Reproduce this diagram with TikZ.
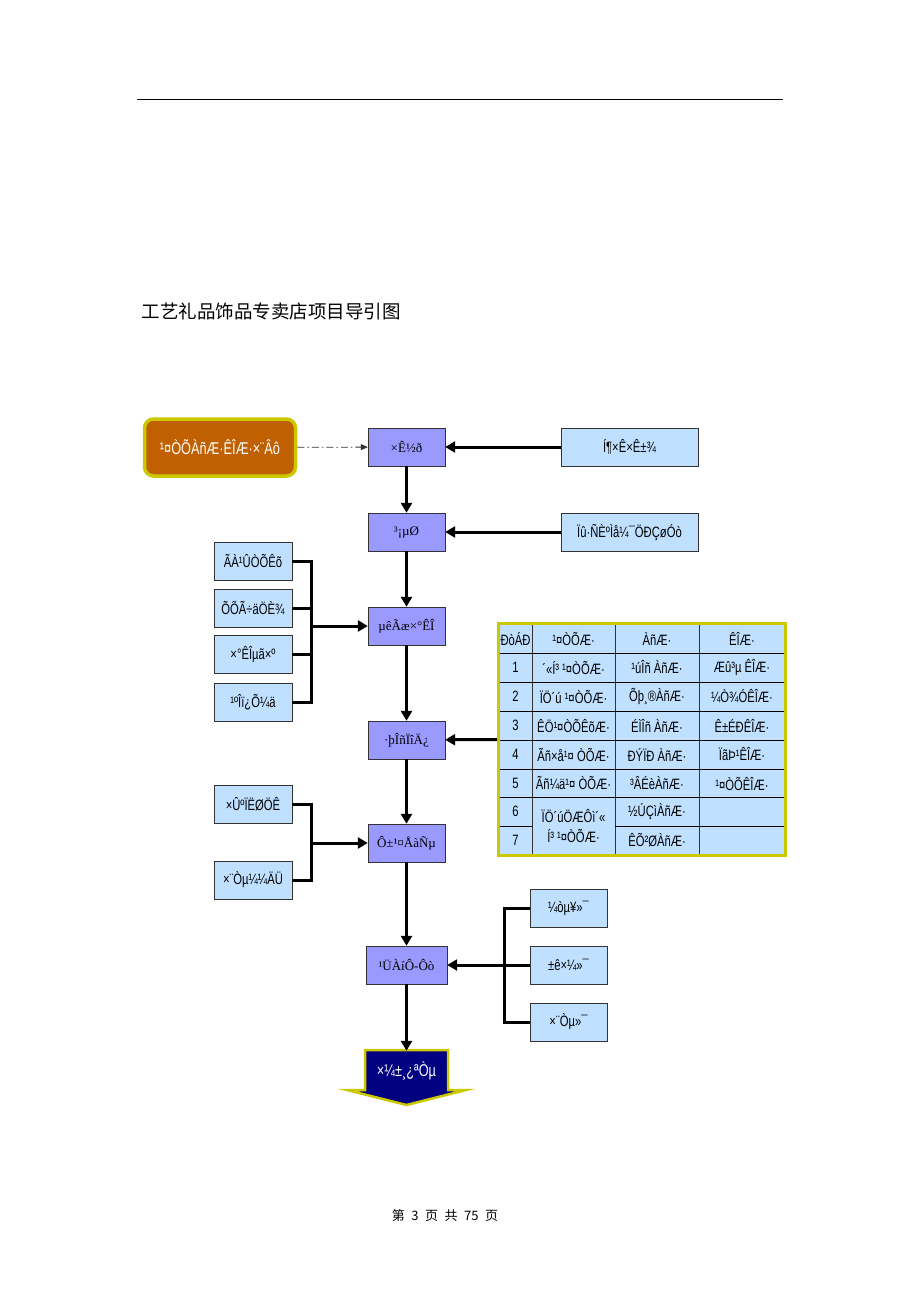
\documentclass[tikz,border=0pt]{standalone}
\usepackage{fontspec}
\setmainfont{Liberation Serif}
\setsansfont{Liberation Sans}[FakeStretch=0.75]
\newfontfamily\cjk{Noto Sans CJK SC}
\usetikzlibrary{arrows.meta}
\definecolor{boxpurple}{RGB}{153,153,255}
\definecolor{boxblue}{RGB}{192,224,255}
\definecolor{rust}{RGB}{192,96,0}
\definecolor{olive}{RGB}{204,200,0}
\definecolor{navy}{RGB}{0,0,128}
\definecolor{edge}{RGB}{51,51,51}

\begin{document}
\begin{tikzpicture}[x=1pt,y=-1pt,
  main/.style={draw=edge,fill=boxpurple,minimum width=77pt,minimum height=38pt,inner sep=0pt,font=\rmfamily\fontsize{13}{15}\selectfont},
  side/.style={draw=edge,fill=boxblue,minimum height=38pt,inner sep=0pt,font=\sffamily\fontsize{15}{17}\selectfont},
  cell/.style={inner sep=0pt,font=\sffamily\fontsize{15}{16}\selectfont},
  arr/.style={line width=3pt,-{Triangle[length=10pt,width=11pt]}},
  bar/.style={line width=3pt},
  rowline/.style={line width=1pt,black},
  colline/.style={line width=0.8pt,edge}]
\useasboundingbox (0,0) rectangle (920,1302);
\draw[line width=1pt] (137,99) -- (783,99);
\node[anchor=west,font=\cjk\fontsize{18.5}{20}\selectfont] (title) at (138,311) {工艺礼品饰品专卖店项目导引图};

% main column
\node[draw=olive,fill=rust,line width=3.5pt,rounded corners=9pt,minimum width=151pt,minimum height=57pt,text=white,font=\sffamily\fontsize{17}{19}\selectfont] (shop) at (220,447.5) {¹¤ÒÕÀñÆ·ÊÎÆ·×¨Âô};
\node[main] (fund) at (406.5,447) {×Ê½ð};
\node[main] (site) at (406.5,532) {³¡µØ};
\node[main] (deco) at (406.5,626) {µêÃæ×°ÊÎ};
\node[main] (svc) at (406.5,740) {·þÎñÏîÄ¿};
\node[main] (staff) at (406.5,843) {Ô±¹¤ÅàÑµ};
\node[main,minimum width=81pt] (mgmt) at (406.5,965) {¹ÜÀíÔ-Ôò};
\fill[navy,draw=olive,line width=2.5pt,line join=miter] (365,1050) -- (448,1050) -- (448,1090) -- (466,1090) -- (406.5,1105) -- (347,1090) -- (365,1090) -- cycle;
\node[minimum width=83pt,minimum height=40pt,inner sep=0pt,text=white,font=\sffamily\fontsize{17}{19}\selectfont] (open) at (406.5,1071) {×¼±¸¿ªÒµ};

\draw[dash pattern=on 7pt off 3pt on 1.5pt off 3pt,line width=0.8pt,edge,-{Triangle[length=7pt,width=6pt]}] (shop) -- (fund);
\draw[arr] (fund) -- (site);
\draw[arr] (site) -- (deco);
\draw[arr] (deco) -- (svc);
\draw[arr] (svc) -- (staff);
\draw[arr] (staff) -- (mgmt);
\draw[arr] (mgmt) -- (open);

% right side
\node[side,minimum width=137pt] (capital) at (629.5,447) {Í¶×Ê×Ê±¾};
\node[side,minimum width=137pt] (crowd) at (629.5,532) {Ïû·ÑÈºÌå¼¯ÖÐÇøÓò};
\draw[arr] (capital) -- (fund);
\draw[arr] (crowd) -- (site);

% left side
\node[side,minimum width=78pt] (art) at (253,561) {ÃÀ¹ÛÒÕÊõ};
\node[side,minimum width=78pt] (light) at (253,608) {ÕÕÃ÷äÖÈ¾};
\node[side,minimum width=78pt] (dots) at (253,654) {×°ÊÎµã×º};
\node[side,minimum width=78pt] (space) at (253,702) {¹ºÎï¿Õ¼ä};
\coordinate (jn1) at (311,626);
\draw[bar] (art.east) -| (jn1) |- (space.east);
\draw[bar] (light.east) -- (light.east -| jn1);
\draw[bar] (dots.east) -- (dots.east -| jn1);
\draw[arr] (jn1) -- (deco);

\node[side,minimum width=78pt] (quality) at (253,804) {×ÛºÏËØÖÊ};
\node[side,minimum width=78pt] (skill) at (253,880) {×¨Òµ¼¼ÄÜ};
\coordinate (jn2) at (311,843);
\draw[bar] (quality.east) -| (jn2) |- (skill.east);
\draw[arr] (jn2) -- (staff);

\node[side,minimum width=77pt] (simple) at (568.5,908) {¼òµ¥»¯};
\node[side,minimum width=77pt] (norm) at (568.5,965) {±ê×¼»¯};
\node[side,minimum width=77pt] (pro) at (568.5,1022) {×¨Òµ»¯};
\coordinate (jn3) at (504,965);
\draw[bar] (simple.west) -| (jn3) |- (pro.west);
\draw[arr] (norm) -- (mgmt);

% table
\node[draw=olive,fill=boxblue,line width=3pt,minimum width=287pt,minimum height=232pt,inner sep=0pt] (tbl) at (642,739.5) {};
\foreach \x in {532,615,699}
  \draw[colline] (\x,625) -- (\x,854);
\foreach \y in {653,682,711,740,769,797}
  \draw[rowline] (500,\y) -- (784,\y);
\draw[rowline] (500,826) -- (532,826);
\draw[rowline] (615,826) -- (784,826);
\node[cell] (h1) at (515.5,639) {ÐòÁÐ};
\node[cell] (h2) at (573.5,639) {¹¤ÒÕÆ·};
\node[cell] (h3) at (657,639) {ÀñÆ·};
\node[cell] (h4) at (742,639) {ÊÎÆ·};
\foreach \a/\b/\c [count=\i] in {´«Í³ ¹¤ÒÕÆ·/¹úÎñ ÀñÆ·/Æû³µ ÊÎÆ·,ÏÖ´ú ¹¤ÒÕÆ·/Õþ¸®ÀñÆ·/¼Ò¾ÓÊÎÆ·,ÊÖ¹¤ÒÕÊõÆ·/ÉÌÎñ ÀñÆ·/Ê±ÉÐÊÎÆ·,Ãñ×å¹¤ ÒÕÆ·/ÐÝÏÐ ÀñÆ·/ÏãÞ¹ÊÎÆ·,Ãñ¼ä¹¤ ÒÕÆ·/³ÂÉèÀñÆ·/¹¤ÒÕÊÎÆ·} {
  \node[cell] (n\i) at (515.5,638.5+29*\i) {\i};
  \node[cell] (a\i) at (573.5,638.5+29*\i) {\a};
  \node[cell] (b\i) at (657,638.5+29*\i) {\b};
  \node[cell] (c\i) at (742,638.5+29*\i) {\c};
}
\node[cell] (n6) at (515.5,811.5) {6};
\node[cell] (n7) at (515.5,840.5) {7};
\node[cell,align=center] (a6) at (573.5,826) {ÏÖ´úÖÆÔì´«\\[4pt]Í³ ¹¤ÒÕÆ·};
\node[cell] (b6) at (657,811.5) {½ÚÇìÀñÆ·};
\node[cell] (b7) at (657,840.5) {ÊÕ²ØÀñÆ·};
\draw[arr] (tbl.west) -- (svc);

\node[font=\cjk\fontsize{13}{15}\selectfont] (pageno) at (445,1216) {第\hspace{0.5em}3\hspace{0.5em}页\hspace{0.5em}共\hspace{0.5em}75\hspace{0.5em}页};
\end{tikzpicture}
\end{document}
